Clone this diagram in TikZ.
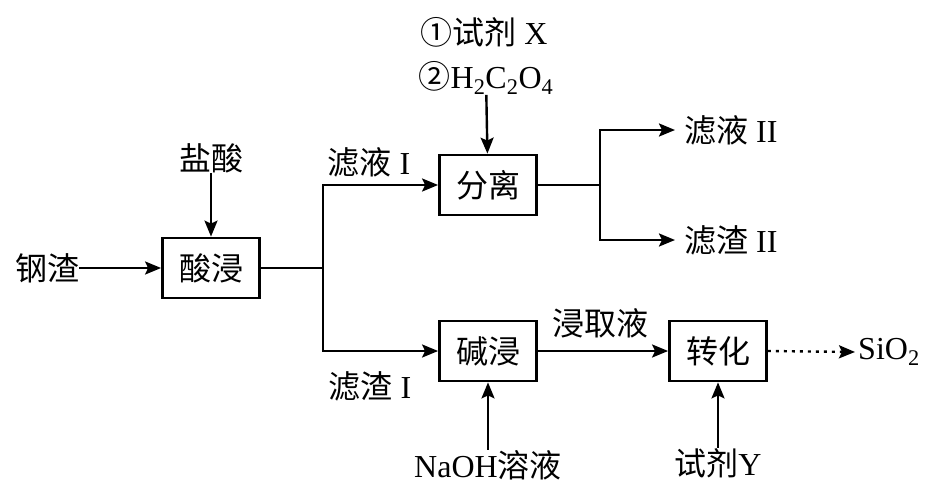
\documentclass[tikz,border=0pt]{standalone}
\usepackage{fontspec}
\setmainfont{Liberation Serif}
\newfontfamily\cjk{Noto Sans CJK SC}
\usetikzlibrary{arrows.meta}
\newcommand\lat[1]{{\rmfamily #1}}
\tikzset{
  every node/.style={font=\cjk\fontsize{32}{36}\selectfont, inner sep=0pt},
  procbox/.style={draw, line width=2.8pt, minimum width=97pt, minimum height=60pt},
  conn/.style={line width=2.4pt},
  arr/.style={conn, -{Stealth[length=16pt,width=13pt,inset=3pt]}},
  dotarr/.style={line width=2.4pt, dash pattern=on 3pt off 5pt, -{Stealth[length=16pt,width=13pt,inset=3pt]}},
}
\begin{document}
\begin{tikzpicture}[x=1pt,y=-1pt]
\useasboundingbox (0,0) rectangle (928,487);
% boxes
\node[procbox] (sj) at (211,268) {酸浸};
\node[procbox] (fl) at (488,185) {分离};
\node[procbox] (jj) at (488,351) {碱浸};
\node[procbox] (zh) at (718,351) {转化};
% labels
\node (gz) at (47,268) {钢渣};
\node (ys) at (211,158) {盐酸};
\node (rx) at (484,32) {①试剂\lat{ X}};
\node (h2) at (486,78) {②\lat{H\textsubscript{2}C\textsubscript{2}O\textsubscript{4}}};
\node (ly1) at (369,162) {滤液\lat{ I}};
\node (lz1) at (370,386) {滤渣\lat{ I}};
\node[anchor=west, inner xsep=9pt] (ly2) at (675,130) {滤液\lat{ II}};
\node[anchor=west, inner xsep=9pt] (lz2) at (675,240) {滤渣\lat{ II}};
\node (jqy) at (600,323) {浸取液};
\node[anchor=west, inner xsep=3pt] (sio) at (855,352) {\lat{SiO\textsubscript{2}}};
\node (naoh) at (488,465) {\lat{NaOH}溶液};
\node (ry) at (718,463) {试剂\lat{Y}};
% junctions
\coordinate (j1) at (323,268);
\coordinate (j2) at (600,185);
% connectors
\draw[arr] (gz) -- (sj);
\draw[arr] (ys) -- (sj);
\draw[conn] (sj.east) -- (j1);
\draw[arr] (j1) |- (fl.west);
\draw[arr] (j1) |- (jj.west);
\draw[arr] (h2) -- (fl);
\draw[conn] (fl.east) -- (j2);
\draw[arr] (j2) |- (ly2.west);
\draw[arr] (j2) |- (lz2.west);
\draw[arr] (jj.east) -- (zh.west);
\draw[dotarr] (zh.east) -- (sio.west);
\draw[arr] (naoh) -- (jj);
\draw[arr] (ry) -- (zh);
\end{tikzpicture}
\end{document}
